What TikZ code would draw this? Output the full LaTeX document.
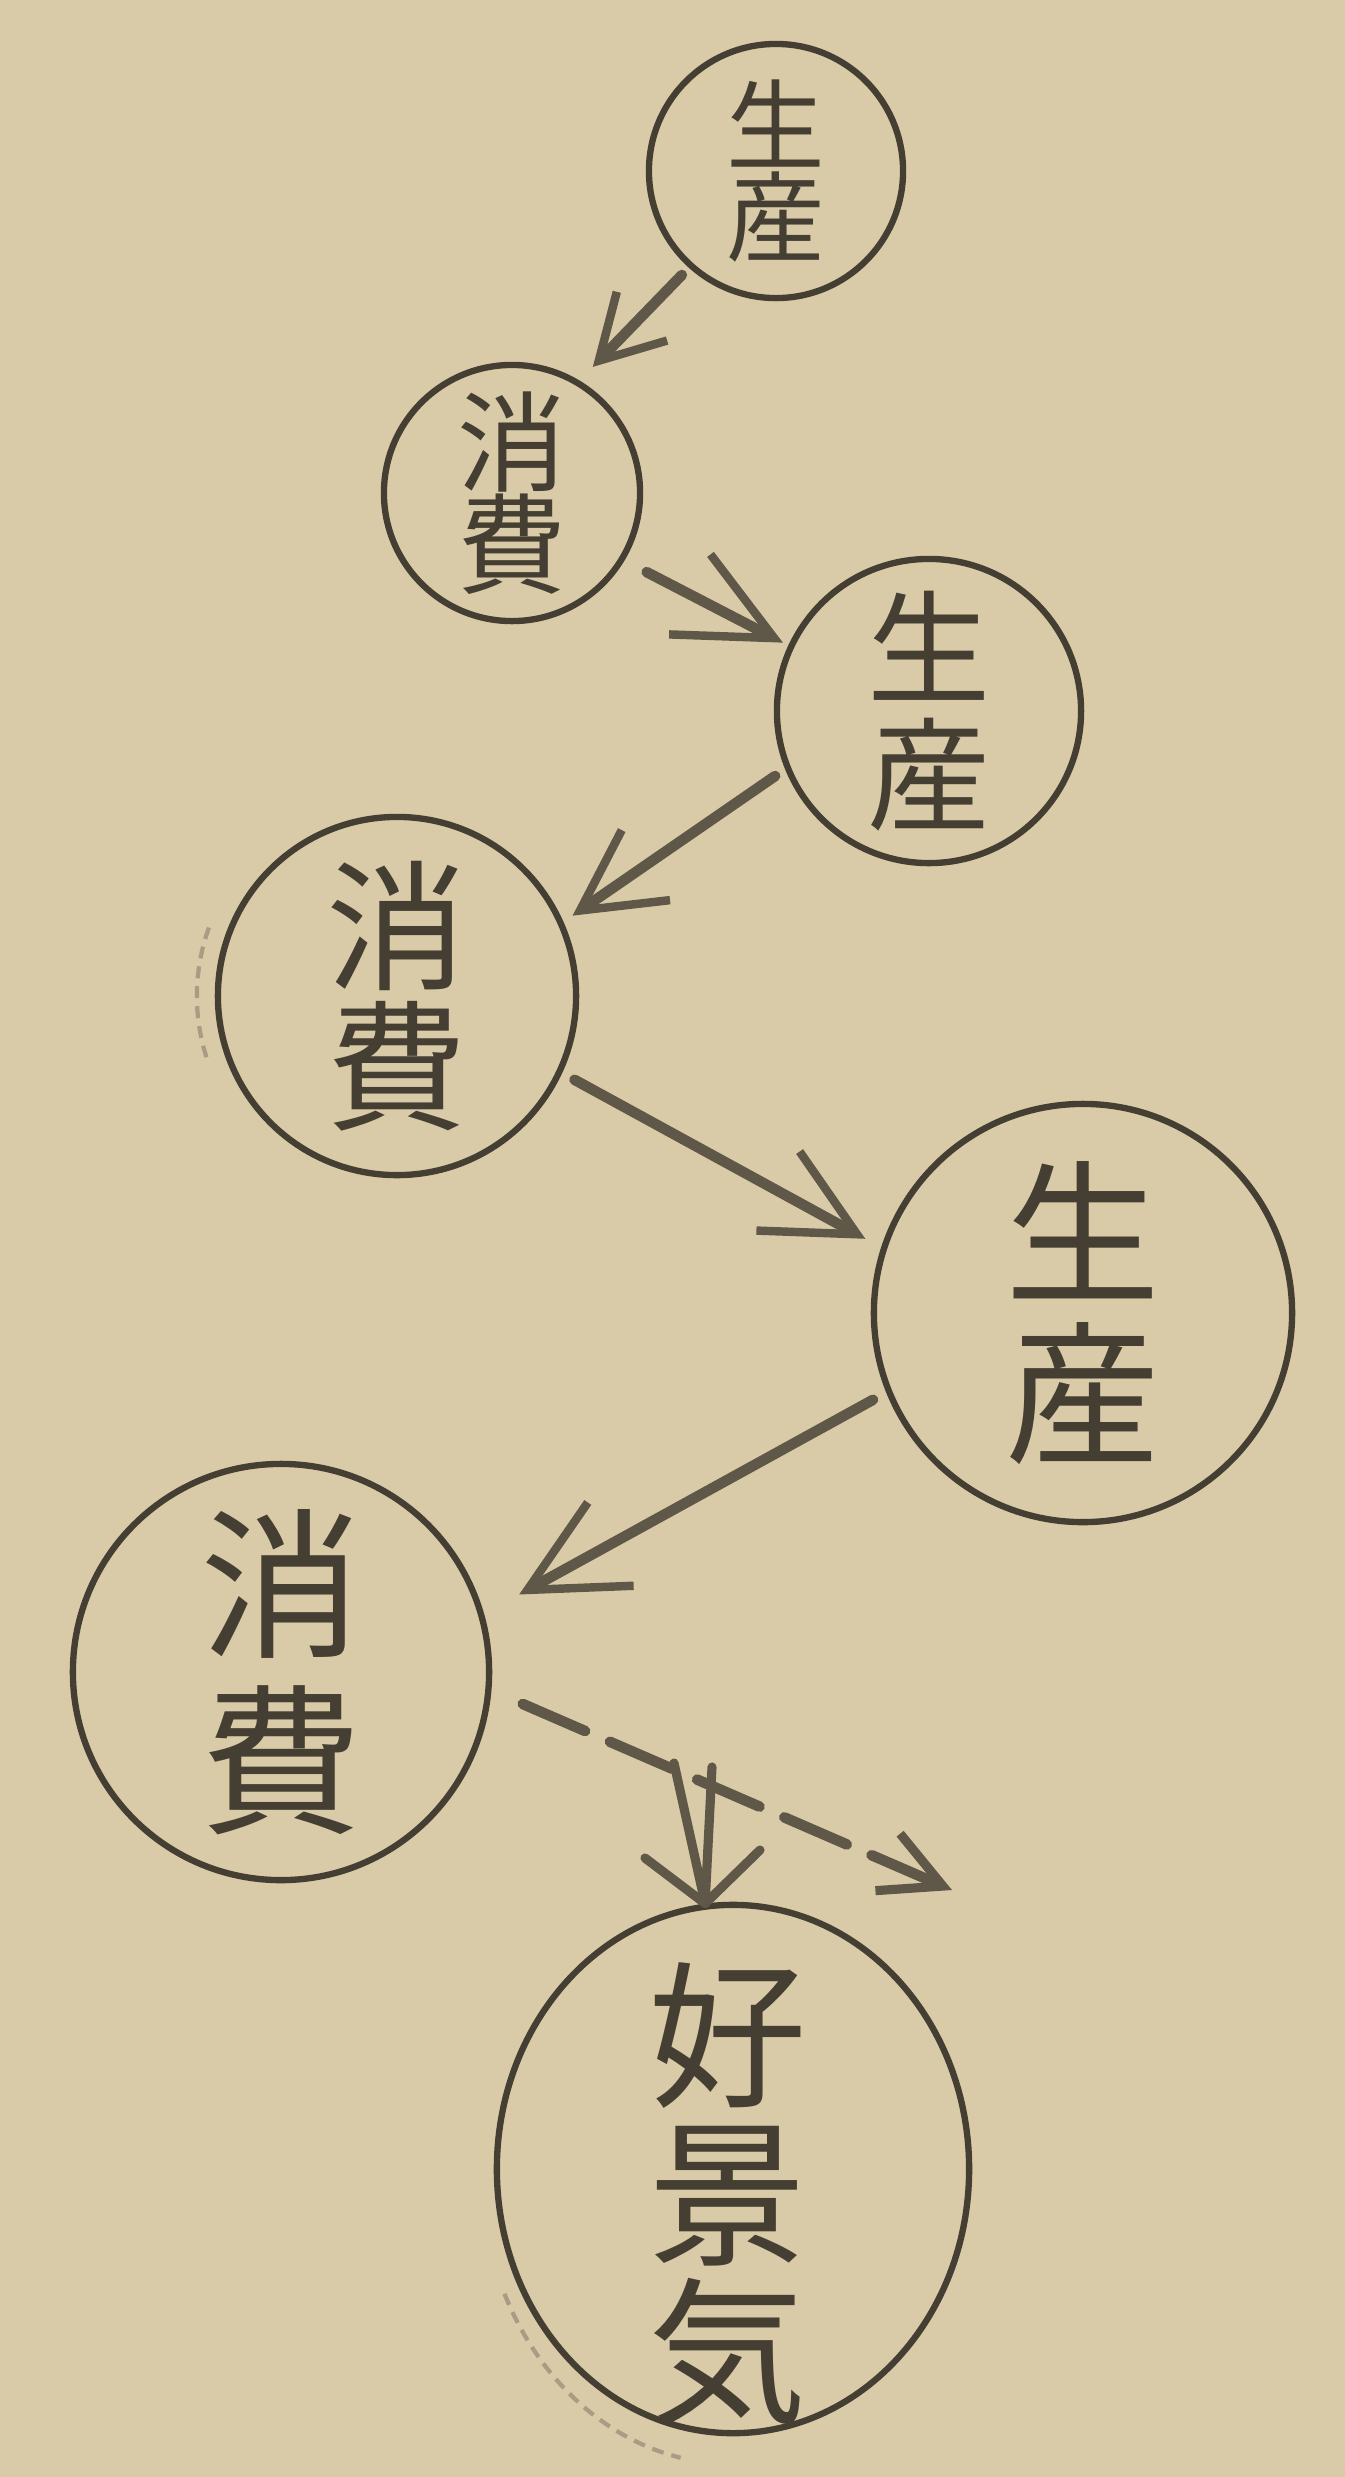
\documentclass[tikz,border=0pt]{standalone}
\usepackage{fontspec}
\newfontfamily\jp{Noto Sans CJK JP}
\usetikzlibrary{arrows.meta,shapes.geometric}
\definecolor{paper}{HTML}{D9CBA8}
\definecolor{inkc}{HTML}{453E32}
\definecolor{shaftc}{HTML}{5F5747}
\definecolor{faintc}{HTML}{A89D84}
\begin{document}
\begin{tikzpicture}[x=0.01cm,y=-0.01cm,
  bubble/.style={circle, draw=inkc, line width=1.8pt, inner sep=0pt, align=center, text=inkc},
  oval/.style={ellipse, draw=inkc, line width=1.8pt, inner sep=0pt},
  caption/.style={inner sep=0pt, align=center, text=inkc},
  flow/.style 2 args={draw=shaftc, line width=3pt, line cap=round,
     -{Straight Barb[length=#1, width=#2, line width=2.4pt]}},
  dashflow/.style={draw=shaftc, line width=3pt, line cap=round, dash pattern=on 0.68cm off 0.27cm,
     -{Straight Barb[length=0.6cm, width=0.62cm, line width=2.6pt]}},
  twin/.style={draw=shaftc, line width=2.6pt, line cap=round, line join=round},
  ghost/.style={draw=faintc, line width=1.2pt, dash pattern=on 0.12cm off 0.08cm}
]
\fill[paper] (0,0) rectangle (1345,2477);
\useasboundingbox (0,0) rectangle (1345,2477);

% nodes
\node[bubble, minimum size=2.54cm, font=\jp\fontsize{28pt}{26pt}\selectfont] (c1) at (776,171) {生\\産};
\node[bubble, minimum size=2.56cm, font=\jp\fontsize{31pt}{29pt}\selectfont] (c2) at (512,493) {消\\費};
\node[bubble, minimum size=3.04cm, font=\jp\fontsize{35pt}{36pt}\selectfont] (c3) at (929,711) {生\\産};
\node[bubble, minimum size=3.58cm, font=\jp\fontsize{40pt}{40pt}\selectfont] (c4) at (397,996) {消\\費};
\node[bubble, minimum size=4.18cm, font=\jp\fontsize{44pt}{46pt}\selectfont] (c5) at (1083,1313) {生\\産};
\node[bubble, minimum size=4.16cm, font=\jp\fontsize{46pt}{50pt}\selectfont] (c6) at (281,1672) {消\\費};
\node[oval, minimum width=4.72cm, minimum height=5.28cm] (c7) at (733,2169) {};
\node[caption, font=\jp\fontsize{45pt}{45pt}\selectfont] (c7t) at (728,2194) {好\\景\\気};

% connectors
\draw[flow={0.62cm}{0.7cm}, shorten <=0.10cm, shorten >=0.19cm] (c1.228) -- (c2.59);
\draw[flow={0.95cm}{0.9cm}, shorten <=0.25cm, shorten >=0.06cm] (c2.329) -- (c3.155);
\draw[flow={0.8cm}{0.85cm}, shorten <=0.12cm, shorten >=0.11cm] (c3.202.6) -- (c4.24.3);
\draw[flow={0.9cm}{0.9cm}, shorten <=0.14cm, shorten >=0.18cm] (c4.335.6) -- (c5.162.6);
\draw[flow={0.95cm}{0.95cm}, shorten <=0.15cm, shorten >=0.40cm] (c5.202) -- (c6.16.6);

\coordinate (dend) at (952,1890);
\draw[dashflow, shorten <=0.34cm] (c6.355.3) -- (dend);

% double-shafted arrow into 好景気
\coordinate (d1) at (674,1763);
\coordinate (d2) at (712,1767);
\coordinate (bl) at (645,1858);
\coordinate (br) at (760,1850);
\draw[twin] (d1) -- (c7.96) -- (d2);
\draw[twin] (bl) -- (c7.96) -- (br);

% faint double-impression arcs
\draw[ghost] (733,2169) ++(205:2.52cm and 2.95cm) arc[start angle=205, end angle=258, x radius=2.52cm, y radius=2.95cm];
\draw[ghost] (397,996) ++(160:2.0cm) arc[start angle=160, end angle=198, radius=2.0cm];
\end{tikzpicture}
\end{document}
